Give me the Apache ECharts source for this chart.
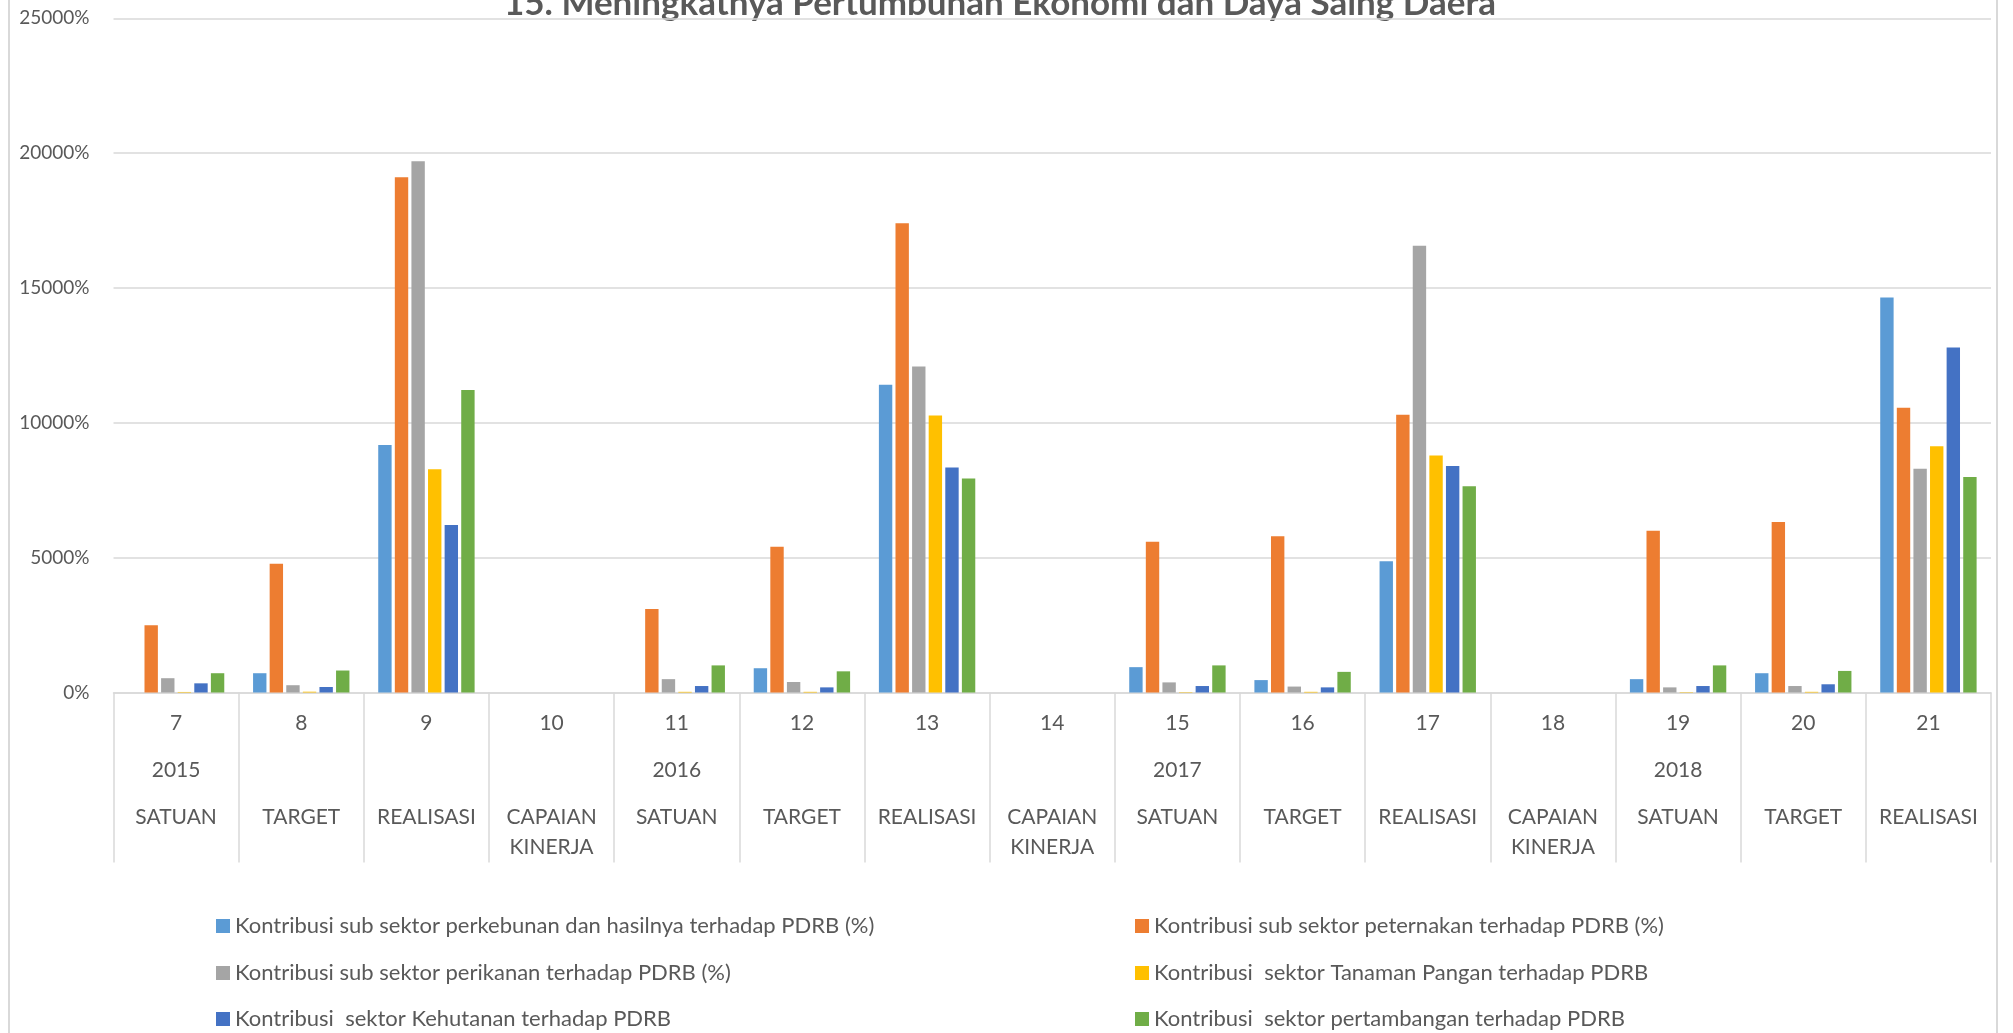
<!DOCTYPE html>
<html>
<head>
<meta charset="utf-8">
<title>Meningkatnya Pertumbuhan Ekonomi dan Daya Saing Daera</title>
<script src="https://cdn.jsdelivr.net/npm/echarts@6/dist/echarts.min.js"></script>
<style>
  html, body { margin: 0; padding: 0; background: #ffffff; }
  #chart { width: 2013px; height: 1033px; }
</style>
</head>
<body>
<div id="chart"></div>
<script>
// Column codes, years and indicator rows along the category axis
const codes = ['7', '8', '9', '10', '11', '12', '13', '14', '15', '16', '17', '18', '19', '20', '21'];
const years = ['2015', '', '', '', '2016', '', '', '', '2017', '', '', '', '2018', '', ''];
const kinds = ['SATUAN', 'TARGET', 'REALISASI', 'CAPAIAN KINERJA',
               'SATUAN', 'TARGET', 'REALISASI', 'CAPAIAN KINERJA',
               'SATUAN', 'TARGET', 'REALISASI', 'CAPAIAN KINERJA',
               'SATUAN', 'TARGET', 'REALISASI'];

// Value axis ticks (percent)
const yTicks = [0, 5000, 10000, 15000, 20000, 25000];

// Series names
const seriesNames = [
  'Kontribusi sub sektor perkebunan dan hasilnya terhadap PDRB (%)',
  'Kontribusi sub sektor peternakan terhadap PDRB (%)',
  'Kontribusi sub sektor perikanan terhadap PDRB (%)',
  'Kontribusi  sektor Tanaman Pangan terhadap PDRB',
  'Kontribusi  sektor Kehutanan terhadap PDRB',
  'Kontribusi  sektor pertambangan terhadap PDRB'
];

// Series values (%), one per category column
const perkebunan  = [0, 715, 9180, 0, 0, 900, 11410, 0, 940, 460, 4870, 0, 495, 715, 14650];
const peternakan  = [2490, 4770, 19110, 0, 3100, 5400, 17400, 0, 5590, 5790, 10300, 0, 5995, 6320, 10560];
const perikanan   = [530, 270, 19700, 0, 495, 390, 12090, 0, 375, 220, 16570, 0, 190, 240, 8295];
const pangan      = [20, 30, 8280, 0, 25, 25, 10270, 0, 15, 25, 8790, 0, 15, 25, 9130];
const kehutanan   = [340, 205, 6215, 0, 240, 190, 8345, 0, 240, 190, 8395, 0, 240, 305, 12790];
const pertambangan = [715, 815, 11220, 0, 1005, 785, 7935, 0, 1005, 765, 7645, 0, 1005, 800, 7990];

const seriesValues = [perkebunan, peternakan, perikanan, pangan, kehutanan, pertambangan];
const colors = ['#5B9BD5', '#ED7D31', '#A5A5A5', '#FFC000', '#4472C4', '#70AD47'];

const FONT = 'Lato, "Open Sans", sans-serif';
const TEXT = '#595959';
const LINE = '#D9D9D9';

// Multi-row category label: code / year / indicator (wrapped when two words)
function categoryLabel(value, idx) {
  const kind = kinds[idx];
  const parts = kind.split(' ');
  let s = '{a|' + codes[idx] + '}\n{a|' + years[idx] + '}\n';
  if (parts.length > 1) {
    s += '{a|' + parts[0] + '}\n{k|' + parts.slice(1).join(' ') + '}';
  } else {
    s += '{a|' + kind + '}';
  }
  return s;
}

// Legend laid out as two columns by three rows, one entry each
const legendCols = [216, 1135];
const legendRows = [915, 962, 1008];
const legends = seriesNames.map(function (name, i) {
  return {
    orient: 'horizontal',
    left: legendCols[i % 2],
    top: legendRows[Math.floor(i / 2)],
    padding: 0,
    itemWidth: 14,
    itemHeight: 14,
    icon: 'rect',
    selectedMode: false,
    data: [name],
    textStyle: { fontFamily: FONT, fontSize: 22, color: TEXT, lineHeight: 20 }
  };
});

const chart = echarts.init(document.getElementById('chart'), null, { renderer: 'canvas' });

const option = {
  animation: false,
  backgroundColor: '#ffffff',
  textStyle: { fontFamily: FONT },
  color: colors,
  graphic: [
    {
      type: 'rect',
      silent: true,
      shape: { x: 9, y: -20, width: 1988, height: 1080 },
      style: { fill: 'none', stroke: LINE, lineWidth: 2 }
    },
    {
      type: 'text',
      silent: true,
      x: 1000,
      y: 4,
      style: {
        text: '15. Meningkatnya Pertumbuhan Ekonomi dan Daya Saing Daera',
        fontFamily: FONT,
        fontWeight: 'bold',
        fontSize: 35,
        fill: TEXT,
        align: 'center',
        verticalAlign: 'middle'
      }
    }
  ],
  grid: {
    left: 113.5,
    right: 22,
    top: 18.3,
    bottom: 340.5,
    containLabel: false
  },
  legend: legends,
  xAxis: {
    type: 'category',
    data: codes,
    axisLine: { show: true, lineStyle: { color: LINE, width: 1.5 } },
    axisTick: {
      show: true,
      interval: 0,
      length: 170,
      lineStyle: { color: LINE, width: 1.5 }
    },
    axisLabel: {
      interval: 0,
      margin: 7,
      verticalAlign: 'top',
      formatter: categoryLabel,
      rich: {
        a: { fontFamily: FONT, fontSize: 21, color: TEXT, lineHeight: 47, align: 'center' },
        k: { fontFamily: FONT, fontSize: 21, color: TEXT, lineHeight: 13, align: 'center' }
      }
    },
    splitLine: { show: false }
  },
  yAxis: {
    type: 'value',
    min: yTicks[0],
    max: yTicks[yTicks.length - 1],
    interval: yTicks[1] - yTicks[0],
    axisLine: { show: false },
    axisTick: { show: false },
    axisLabel: {
      margin: 24,
      fontFamily: FONT,
      fontSize: 19,
      color: TEXT,
      formatter: function (v) { return v + '%'; }
    },
    splitLine: { lineStyle: { color: LINE, width: 1.5 } }
  },
  series: seriesNames.map(function (name, i) {
    return {
      name: name,
      type: 'bar',
      data: seriesValues[i],
      barGap: '24%',
      barCategoryGap: '23%',
      itemStyle: { color: colors[i] }
    };
  })
};

chart.setOption(option);
</script>
</body>
</html>
